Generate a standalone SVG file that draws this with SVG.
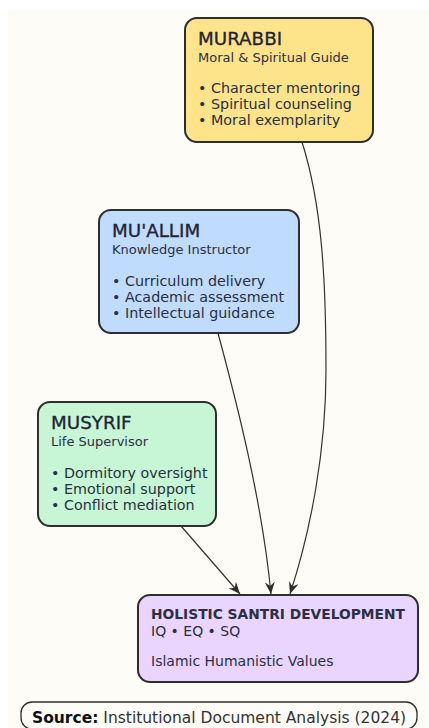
<svg xmlns="http://www.w3.org/2000/svg" width="429" height="728" viewBox="0 0 429 728">
<defs>
<style>
.box{stroke:#2e2e2e;stroke-width:2}
.t{font-family:"DejaVu Sans",sans-serif;fill:#2a3040}
.title{font-size:18.3px;fill:#1f2535;stroke:#1f2535;stroke-width:0.35}
.sub{font-size:13px}
.bul{font-size:14.3px}
.edge{fill:none;stroke:#333;stroke-width:1.2}
</style>
<marker id="ah" viewBox="0 0 12 10" refX="12" refY="5" markerWidth="12" markerHeight="10" markerUnits="userSpaceOnUse" orient="auto">
<path d="M0,0 L12,5 L0,10 L4,5 Z" fill="#2e2e2e"/>
</marker>
</defs>
<rect x="0" y="0" width="429" height="728" fill="#ffffff"/>
<rect x="8" y="10" width="421" height="718" fill="#fdfcf7"/>
<g id="connectors">
<path class="edge" d="M302,142 C322,205 326,280 326,370 C326,450 311,530 290,594" marker-end="url(#ah)"/>
<path class="edge" d="M218,333 C236,400 262,500 271,594" marker-end="url(#ah)"/>
<path class="edge" d="M181,526 L240,594" marker-end="url(#ah)"/>
</g>
<g id="murabbi">
<rect class="box" x="185" y="18" width="188" height="124" rx="12" fill="#fde38a"/>
<text class="t title" x="198" y="45">MURABBI</text>
<text class="t sub" x="198" y="61.5">Moral &amp; Spiritual Guide</text>
<text class="t bul" x="198" y="93">• Character mentoring</text>
<text class="t bul" x="198" y="109">• Spiritual counseling</text>
<text class="t bul" x="198" y="125">• Moral exemplarity</text>
</g>
<g id="muallim">
<rect class="box" x="99" y="210" width="200" height="123" rx="12" fill="#bfdbfe"/>
<text class="t title" x="112" y="237">MU'ALLIM</text>
<text class="t sub" x="112" y="253.5">Knowledge Instructor</text>
<text class="t bul" x="112" y="286">• Curriculum delivery</text>
<text class="t bul" x="112" y="302">• Academic assessment</text>
<text class="t bul" x="112" y="318">• Intellectual guidance</text>
</g>
<g id="musyrif">
<rect class="box" x="38" y="402" width="178" height="124" rx="12" fill="#c6f6d5"/>
<text class="t title" x="51" y="429">MUSYRIF</text>
<text class="t sub" x="51" y="445.5">Life Supervisor</text>
<text class="t bul" x="51" y="478">• Dormitory oversight</text>
<text class="t bul" x="51" y="494">• Emotional support</text>
<text class="t bul" x="51" y="510">• Conflict mediation</text>
</g>
<g id="holistic">
<rect class="box" x="138" y="595" width="280" height="87" rx="12" fill="#e9d5ff"/>
<text class="t" x="151" y="619" font-size="13.8" font-weight="bold" fill="#1f2535">HOLISTIC SANTRI DEVELOPMENT</text>
<text class="t" x="151" y="636" font-size="14">IQ • EQ • SQ</text>
<text class="t" x="151" y="666" font-size="14">Islamic Humanistic Values</text>
</g>
<g id="source">
<rect x="21" y="702" width="396" height="27" rx="11" fill="#fdfcf7" stroke="#2e2e2e" stroke-width="1.3"/>
<text x="32" y="723" font-family="DejaVu Sans, sans-serif" font-size="15.5" fill="#111"><tspan font-weight="bold">Source:</tspan> <tspan fill="#333">Institutional Document Analysis (2024)</tspan></text>
</g>
</svg>
